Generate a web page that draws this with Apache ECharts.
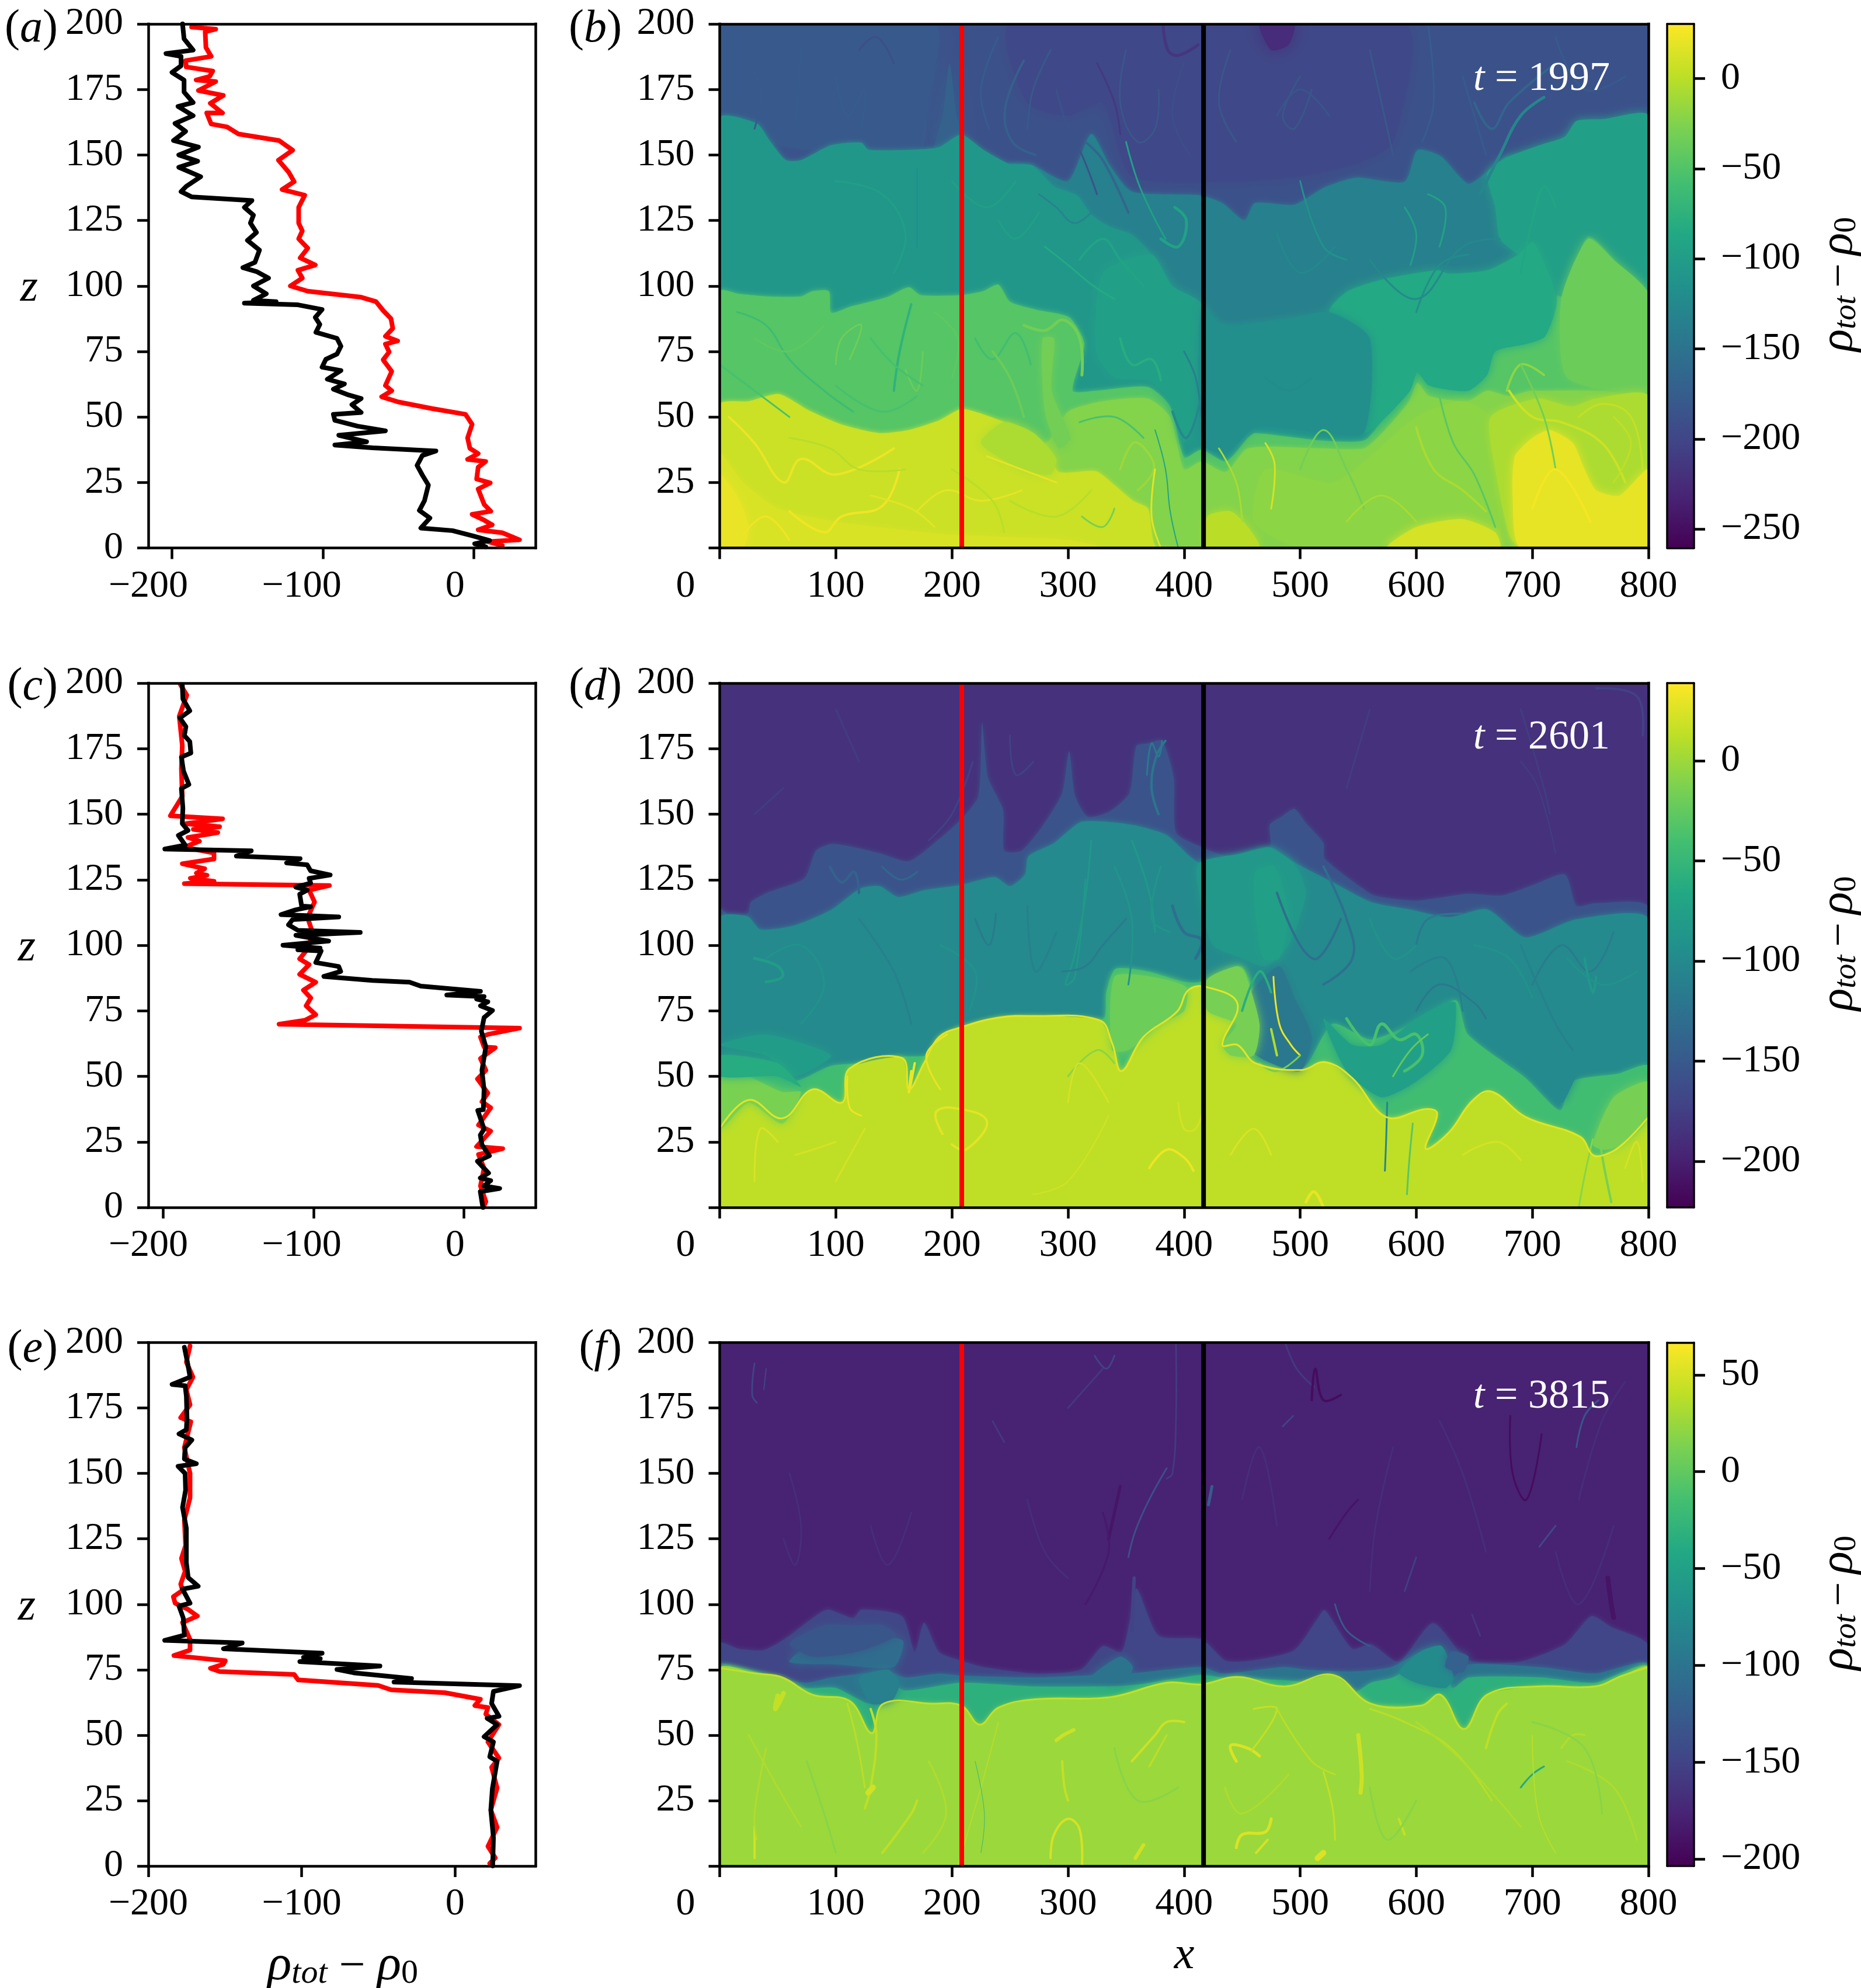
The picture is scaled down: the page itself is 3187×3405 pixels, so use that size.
<!DOCTYPE html>
<html><head><meta charset="utf-8">
<style>html,body{margin:0;padding:0;background:#fff}#c{width:3187px;height:3405px}</style>
<script src="https://cdn.jsdelivr.net/npm/echarts@6/dist/echarts.min.js"></script>
</head><body><div id="c"></div>
<script>
// ---------- tick labels ----------
const zTicks=[0,25,50,75,100,125,150,175,200];
const xTicks=[0,100,200,300,400,500,600,700,800];
const rhoTicks=[-200,-100,0];
const redX=208.5, blackX=416.8;

// ---------- profiles: [rho, z] ----------
const aBlack=[[-193,200],[-192,194.3],[-186,190],[-204,188.7],[-194,187.6],[-194,184],[-200,181.5],[-192,178.6],[-192,174],[-186,170],[-196,168.5],[-186,165],[-198,162],[-191,159],[-199,155.5],[-182.5,153],[-195.5,150],[-183,147.6],[-195.5,145.3],[-181,141.7],[-190.6,138],[-194,136],[-187,134],[-147,132.6],[-152,130],[-146,127],[-148,124],[-144,120.4],[-150,117.4],[-142,113.7],[-145,109],[-153,107],[-144,105.5],[-136,103],[-146,100],[-137.5,97],[-146,94.5],[-131,94],[-152,93.4],[-116.5,92.8],[-100.5,91],[-105,88],[-102,85.3],[-104.6,82.3],[-90.6,80],[-88,77],[-90.6,74],[-98,72],[-100.5,69],[-88,67.7],[-97,64.4],[-85.7,62.6],[-93,60.6],[-83,58.4],[-74.6,57],[-80.7,54.7],[-74.6,51.7],[-93,51],[-92,48.7],[-77,46.5],[-58.5,44.7],[-89.4,43],[-71,40.5],[-92,39.3],[-67,38.2],[-25,37],[-34,35.3],[-37.5,31.5],[-34,27.8],[-30,24],[-32.6,18],[-36,14.3],[-29,11.4],[-35,7.6],[-14,6.6],[-0.5,4.6],[10.6,2.8],[0.7,1.6],[8,0.4]];
const aRed=[[-187,198.8],[-171,198],[-178,197],[-177.5,191],[-174,187.6],[-191,186],[-190.6,183.6],[-173,182],[-175,180],[-184,178.6],[-171,178],[-182.5,174.6],[-166,172.7],[-174.6,169.7],[-166.5,166],[-177,166],[-174,161.8],[-163.5,160.7],[-156,158],[-129,155.5],[-120,151.8],[-129.4,148],[-122.7,143.5],[-119,139.8],[-127,136.8],[-112,134.6],[-116,130],[-116,124],[-113.6,121],[-116,118],[-110,114.4],[-115,110.7],[-105,108],[-116.5,106],[-113.6,103],[-121.5,100],[-110,98],[-74.6,95.7],[-64.7,94],[-59.8,90.5],[-54.8,87.5],[-53.6,83.8],[-58.5,80.8],[-50.4,79],[-58.5,77.8],[-56,74.8],[-60,71.8],[-54.3,67.4],[-58.5,62],[-54.3,60],[-61,57.7],[-49.9,55.7],[-27.7,53.2],[-5.4,51],[-1,47.2],[-4,42],[-2.5,38],[3,36],[-4,33.8],[8,33],[3,30.8],[2,26.3],[11,24.8],[3,22.5],[7,16.6],[11.4,14],[-1,12.8],[7,10.6],[12.3,8.8],[3,6.9],[19,5.8],[30.4,3.1],[9.4,2.4],[19,0.9]];
const cBlack=[[-187.4,199.4],[-187,194],[-182.4,189.4],[-189,186.7],[-185,183.4],[-186,180],[-182.4,177.7],[-181.7,173.3],[-188,171.8],[-186.6,166.5],[-183,161.3],[-188,159.8],[-187,152.4],[-187.4,146.4],[-183.6,143.8],[-190,141.9],[-185.4,138.2],[-199,136.7],[-141.5,136],[-151.4,134],[-109,133],[-118,131.4],[-104.3,130.7],[-102,128.4],[-89,126.8],[-103,125.5],[-102,123.7],[-112,122.2],[-104.3,121],[-109.3,119.5],[-108,115],[-102,114.7],[-112,113.5],[-121.7,111.7],[-83.3,110.8],[-114,109.8],[-116.7,107.8],[-110.5,105.7],[-69,104.9],[-111.8,103.8],[-90,101.6],[-120.4,100],[-95.7,98.9],[-110.5,98.3],[-95,97.8],[-98.6,93.4],[-83.3,91.9],[-82,90],[-93.2,88.1],[-61,86.6],[-36.2,85.9],[-28.7,84.4],[11,82.4],[-11.4,81],[13.4,80.4],[8.4,79.5],[15.9,78.4],[11,76.9],[19,75.1],[13.4,72.4],[11.6,67.2],[14.6,61.2],[12,52.3],[13.4,44.8],[12.9,37.3],[9.2,37],[13.4,29.9],[10.9,27.6],[12,23.9],[17,19.7],[9,17.6],[16.4,13.1],[10.9,11.2],[17.8,10.2],[13.4,8.2],[23.8,7.2],[10.9,6],[12.6,0]];
const cRed=[[-188.6,199.4],[-184.4,195.4],[-189.4,187.4],[-187.4,176.2],[-188,167.3],[-187.4,156.8],[-195.3,149.4],[-160.6,148.2],[-185,146.4],[-162.6,145.2],[-180,144.2],[-163.8,143],[-183.6,141.1],[-176,139.7],[-186,137.4],[-166.3,135.2],[-166.3,132.9],[-187.4,131.1],[-172.5,129.2],[-178,127.5],[-171,126.7],[-182,125.5],[-166.3,124.4],[-186,123.5],[-89.5,122.8],[-103,121],[-99.4,116.5],[-104,110.5],[-100.6,104.6],[-104,98.6],[-109.3,94.8],[-103,92.6],[-109.3,88.9],[-98.6,85.9],[-106.8,82.9],[-101.9,79.9],[-105,76.9],[-98.6,73.5],[-105.6,71.4],[-123,69.9],[37,68.4],[15.9,66],[11,65],[13.4,61.2],[20.8,60.9],[11,56.8],[14.6,52.3],[9,49],[15.9,43.6],[12,40.3],[17.8,38],[9.7,31.4],[17.8,29.1],[8.4,23.2],[25.8,22.4],[9.7,20.2],[13.4,14.9],[11,8.2],[14.6,2.2],[12.9,0]];
const eBlack=[[-176.5,198.2],[-174.5,192.5],[-172.8,186.8],[-184.5,184],[-176,183.5],[-175.2,179.5],[-174.8,171.3],[-175.2,166.7],[-180,165.1],[-171.6,162.8],[-176,159.9],[-176.5,155.5],[-168.7,153.7],[-180.6,152.7],[-176,150],[-175.7,143.6],[-177.7,137],[-175.2,129],[-175.2,115.9],[-174,110.2],[-167.5,106.9],[-177.7,105.8],[-172.8,100.4],[-180,99.3],[-177.2,94.7],[-176.5,88.2],[-189.3,86.2],[-138.8,85.2],[-151,83],[-86.7,81.3],[-98.8,79.7],[-87.9,79.2],[-101.2,78.1],[-49,76.4],[-77,75.1],[-66,73.8],[-28.4,71.6],[-39.8,70.3],[42,68.9],[25,66.7],[23.8,62.1],[28.6,57.2],[20.9,56.4],[27.4,54],[18.9,49.4],[25,47.4],[22.6,41.7],[27.4,40],[24.3,29.5],[23.3,21.4],[25,10.8],[24.5,0]];
const eRed=[[-172.8,198.7],[-175.2,192.5],[-170.9,186.8],[-175.2,182],[-172.8,176.2],[-178.9,171.3],[-172.3,169.7],[-176.5,159.9],[-172.8,150],[-172.8,140.7],[-176.5,132.2],[-175.7,122.4],[-178.4,117.5],[-176,112.6],[-178.9,107.7],[-177.7,105.3],[-183.7,102.9],[-182.5,100.4],[-174,98],[-168,95.5],[-177.7,93],[-172.8,86.6],[-172.8,82.5],[-183.3,80.4],[-149.8,78.4],[-151,77.1],[-159.5,75.5],[-153.4,74.3],[-104.9,73.2],[-102.4,71.1],[-50.2,69],[-41.7,67.3],[-6.6,66.2],[16.5,63.7],[12.9,61.3],[21.4,60.5],[20,58],[28.6,54],[21.4,47.4],[28.6,41.2],[23.8,37.7],[27.4,29.8],[23.3,21.4],[27.4,14.8],[21.4,7.5],[26.2,3.1],[22.6,1]];

// ---------- density fields ----------
const bTime='1997', dTime='2601', fTime='3815';
const bRange=[-260.5,30.3], dRange=[-223,38.7], fRange=[-203.6,66.7];
const bTicks=[0,-50,-100,-150,-200,-250], dTicks=[0,-50,-100,-150,-200], fTicks=[50,0,-50,-100,-150,-200];
const bBase=-188, dBase=-186, fBase=-178;

// "Down": the outline is a top edge and the region fills to z=0. "Blob": a closed outline. "Line": a filament
const bDown=[
 [-135,[[0,140],[230,140],[250,146.5],[269,146],[300,140],[320,158],[336,146],[355,136],[413,134.6],[433,131.6],[452,125],[461,131.6],[495,131],[521,137.6],[548,141.3],[590,139.8],[601,151.8],[621,149.5],[644.5,139],[661,143.5],[678,149.5],[700,150],[800,150]]],
 [-108,[[0,164],[32,162],[43,155.5],[57,148],[70,148],[96,153.7],[122,154.7],[128,152],[166,152],[189,153],[208,157.7],[227,152],[250,146.5],[269,146],[288,138],[308,134.5],[320.5,127],[336,122.6],[355,119.6],[372,112],[394,96],[413,93],[433,85],[452,85],[484,87],[525,88],[800,80]]],
 [-48,[[0,98],[16,97],[41,96],[70,96],[80,98],[94,98],[96,89.8],[112,92],[144,95.7],[163,99.5],[173,96.5],[208,96.5],[227,98],[240,100.5],[250,94],[272,91],[301,88],[314,78],[304,60],[324,60],[369,61.4],[388,54],[400,34.5],[415,37.5],[436,33],[455,42],[461,43.8],[518,41],[555,41],[571,48.7],[594.6,60],[601,67],[611,62],[644.5,60],[661,66],[668,75],[694,77.8],[711,80.8],[721,95.7],[735,114],[748,121],[762,118],[777.5,107.7],[800,98.7]]],
 [-24,[[0,40],[280,40],[300,52],[330,56],[369,57],[388,50],[400,30],[415,33],[436,29],[455,38],[518,38],[555,38],[571,44],[594,56],[601,63],[611,58],[644,56],[661,60],[680,58],[700,60],[800,56]]],
 [7,[[0,54.7],[25,56],[51,58.7],[77,52.4],[105.5,47],[137.6,43.8],[163,45],[189,48.7],[208,53],[227,51],[250,47],[266,40.5],[282,37.5],[292,29],[324,29.3],[340,24],[356,18],[369,15],[378,0]]],
];
const bBlob=[
 [-180,[[0,200],[185,200],[180,170],[170,150],[0,160]]],
 [-170,[[185,152],[192,165],[198,185],[204,165],[208,158]]],
 [-198,[[250,200],[590,200],[580,155],[550,147],[500,142],[440,140],[355,142],[330,170],[300,165],[265,170]]],
 [-224,[[465,200],[495,200],[490,192],[475,190]]],
 [-97,[[661,143],[678,149],[708,154],[728,157],[738,163],[761,163.7],[800,165],[800,98.7],[777,107],[748,119],[725,96],[700,110],[688,112],[672,118],[668,130]]],
 [-85,[[525,90.5],[541,98],[571,102.5],[618,106],[628,104.7],[661,106],[688,112],[701,116.7],[721,95],[711,80.8],[694,77.8],[668,75],[661,66],[644.5,60],[611,62],[601,67],[594.6,60],[571,48.7],[555,44],[525,60]]],
 [-98,[[372,112],[390,100],[415,93],[415,60],[400,40],[388,56],[369,64],[340,65],[324,75],[330,105]]],
 [-118,[[415,93],[433,85],[484,87],[525,90],[560,80],[555,44],[518,44],[461,46],[436,36],[415,40]]],
 [-36,[[725,95],[748,118],[770,110],[800,97],[800,60],[730,65]]],
 [-32,[[278,80],[288,80],[286,60],[302,42],[292,38],[280,52]]],
 [-20,[[600,50],[640,56],[664,50],[668,30],[672,5],[640,10],[600,8],[580,0],[500,0],[460,10],[470,30],[530,25]]],
 [-6,[[664,50],[704,57],[734,54],[754,57],[800,58],[800,0],[690,0],[680,5],[668,30]]],
 [20,[[690,0],[683,20],[685,35],[700,42],[715,45],[735,40],[745,30],[755,22],[775,20],[800,30],[800,0]]],
 [12,[[575,0],[600,8],[640,11],[668,6],[672,0]]],
 [14,[[0,36],[20,25],[50,15],[100,10],[200,5],[300,3],[330,0],[0,0]]],
 [21,[[0,28],[15,20],[25,8],[20,0],[0,0]]],
 [0,[[420,12],[440,14],[455,8],[465,0],[420,0]]],
 [-6,[[225,40],[260,30],[285,28],[290,34],[270,44],[245,48]]],
];
const bLine=[
 [-172,[[262,186],[246,168],[252,155],[272,150]],4],[-165,[[315,155],[330,148],[352,128]],4],[-180,[[285,190],[270,175],[265,160]],3],
 [-215,[[382,200],[386,190],[395,188],[412,192]],5],[-212,[[325,185],[340,170],[345,158]],3],[-182,[[500,180],[485,165],[495,160],[510,175]],3],
 [-175,[[610,200],[615,170],[605,155]],3],[-165,[[650,170],[665,160],[680,170],[720,185]],4],[-128,[[655,135],[672,150],[690,165],[710,172]],5],
 [-98,[[350,155],[360,140],[372,128],[384,118]],3],[-92,[[310,110],[330,118],[345,110],[365,100]],4],[-84,[[280,115],[300,108],[322,100],[340,95]],3],
 [-130,[[275,135],[290,130],[305,124],[320,128]],3],[-95,[[380,118],[395,115],[402,125],[392,130]],5],
 [-135,[[400,75],[410,65],[415,50]],3],[-80,[[345,80],[355,70],[372,72],[380,64]],4],[-125,[[390,52],[402,42],[415,58]],4],
 [-74,[[150,60],[155,75],[165,93]],4],[-62,[[15,90],[40,85],[60,72],[90,60],[115,52]],3],[-34,[[100,70],[105,80],[122,85],[112,72]],3],[-32,[[262,85],[280,83],[296,87],[310,80],[312,66]],5],
 [-36,[[160,68],[170,60],[175,75]],3],[-60,[[220,80],[235,72],[255,82],[268,70]],3],
 [22,[[8,50],[30,40],[55,25],[70,34],[100,28],[150,38]],4],[24,[[60,14],[90,6],[105,12],[140,16],[155,30]],4],[-2,[[60,42],[95,38],[120,30],[160,30]],3],[20,[[170,14],[195,22],[225,18],[260,22]],3],
 [-14,[[345,30],[356,40],[366,38],[374,30],[360,22]],4],[18,[[375,30],[372,12],[380,0]],3],[-90,[[395,0],[388,14],[384,30],[375,45]],2],[-30,[[312,12],[330,8],[340,15]],3],
 [-8,[[600,46],[615,30],[640,22],[660,14]],4],[-45,[[620,58],[632,40],[650,28],[668,8]],3],[8,[[680,60],[700,50],[725,48],[760,40],[780,25]],4],[-20,[[678,60],[690,70],[710,66]],4],[4,[[740,50],[760,55],[785,50],[795,30]],3],
 [12,[[475,15],[478,32],[470,40]],3],[-122,[[470,65],[490,60],[510,65]],3],[-120,[[600,90],[620,108],[645,112]],3],
 [-178,[[20,190],[35,175],[30,160]],3],[-176,[[70,190],[65,160]],3],[-175,[[100,180],[110,165],[125,175],[122,160]],3],[-192,[[120,190],[135,195],[150,185]],3],[-177,[[240,195],[225,175],[232,160]],3],
 [-186,[[290,175],[300,160],[312,150],[325,135]],3],[-182,[[350,190],[345,170],[360,155],[375,160],[378,175]],3],[-190,[[400,185],[390,165],[405,150]],3],[-182,[[440,190],[430,170],[445,155]],3],[-184,[[480,165],[500,175],[525,165]],3],[-180,[[560,190],[580,150]],3],[-178,[[640,180],[660,150]],3],[-178,[[720,195],[745,175],[780,180]],3],
 [-98,[[100,140],[140,135],[160,120],[150,105]],3],[-116,[[170,115],[170,145]],3],[-98,[[200,140],[230,130],[255,140]],3],[-97,[[240,125],[255,118],[275,128]],3],[-125,[[480,120],[500,105],[530,115]],3],[-114,[[500,140],[520,115],[540,110]],3],[-98,[[590,130],[600,120],[595,108]],3],[-124,[[560,110],[600,95],[640,115],[672,118]],3],[-90,[[690,105],[700,125],[710,138],[720,130]],3],[-95,[[610,135],[625,130],[620,115]],3],
 [-56,[[0,70],[30,60],[60,50]],3],[-42,[[30,80],[60,75],[90,85]],3],[-56,[[130,80],[150,70],[175,62]],3],[-42,[[185,90],[205,80],[200,65]],3],[-56,[[100,62],[140,52],[170,58]],3],[-36,[[235,75],[250,65],[262,50]],4],[-55,[[310,48],[340,50],[365,42]],3],
 [20,[[230,35],[260,30],[290,25]],3],[-2,[[250,18],[290,12],[320,22]],3],[18,[[130,20],[165,15],[185,8]],3],[-1,[[200,30],[235,18],[245,6]],3],[24,[[20,5],[40,12],[60,3]],3],
 [-32,[[500,30],[520,45],[540,30],[555,15]],3],[-8,[[430,38],[445,25],[450,10]],3],[-32,[[690,70],[710,50],[720,30]],3],[-8,[[540,10],[570,20],[600,10]],3],[26,[[700,15],[720,30],[750,10]],4],[2,[[770,25],[785,40],[770,50]],3],
];

const dDown=[
 [-155,[[0,114],[8,111.6],[24,112],[27,116.5],[41,120],[73,125.5],[83,136],[96,138.6],[115,137.4],[138,135],[163,132],[189,140.4],[208,148],[223,157],[226,185],[231,164],[244,151.6],[245,136],[260,136],[279,146],[295,158],[301,174],[306,157],[317,149],[336,151],[353,158],[359,176],[369,177],[381,178],[391,164],[393,143],[415,137.4],[433,134.4],[452,134],[474,137.4],[474,146],[484,149],[495,152],[505,146.5],[520,139],[521,133],[561,119.5],[575,118],[601,117],[644.5,119.6],[674,119],[701,123],[728,127],[738,115],[754,116],[800,114.3]]],
 [-100,[[0,110.5],[24,111],[35,106],[64,107.5],[96,113.5],[121.6,121.7],[138,122.5],[153.7,118.4],[176,121],[208,123],[237,126],[250,122.5],[263,127],[266,134],[288,139],[311,147],[336,147],[359,145.6],[385,142],[413.5,131.4],[449,135],[474,137.4],[495,131.5],[528,124],[561,116.5],[595,113.6],[628,110.7],[661,113.7],[694,103],[738,109.9],[800,109.9]]],
 [-42,[[0,55],[16,55],[41,52],[64,48],[96,54],[125,55],[157,57.5],[179,58],[189,64],[208,68.7],[240,72],[330,71.7],[333,82],[341,91],[369,90],[400,86],[415,86],[449,92],[462,77.7],[461,60],[501,52.4],[528,70],[561,64],[611,73],[634.5,79],[644.5,65.9],[694,49.4],[724,37],[734,48],[774,51],[800,53.8]]],
 [13,[[0,30],[25,41],[54,34],[80,45],[105.5,40],[112,53],[157,57],[163,45],[176,55],[189,65],[208,68.7],[240,72.4],[269,73],[327,71.4],[338,62.7],[346,52],[365,65],[394,74.7],[404,83],[420,84],[446,77.7],[433,62],[446,62],[461.5,55],[501,52.4],[521.5,55.4],[544.7,49.4],[574.6,34.4],[608,37.5],[618,35.8],[608,22.4],[628,28.5],[648,40.5],[664.4,44.2],[694,34.5],[741,27],[752,20],[762,20],[777.5,24],[800,34.5]]],
];
const dBlob=[
 [-84,[[412,131],[450,135],[474,137],[495,131],[505,120],[490,100],[470,92],[450,95],[425,100],[415,115]]],
 [-76,[[461,128],[478,130],[490,112],[482,95],[468,95],[462,110]]],
 [-118,[[455,80],[462,70],[452,62],[470,56],[500,52],[510,65],[495,80],[482,92]]],
 [-75,[[520,72],[545,62],[570,62],[600,72],[625,78],[634,78],[630,60],[600,48],[570,42],[540,52]]],
 [-80,[[0,62],[40,58],[65,50],[96,58],[40,66]]],
 [-15,[[420,87],[445,92],[452,90],[465,70],[460,58],[440,58],[433,62],[445,70],[420,75]]],
 [-20,[[340,88],[372,88],[402,84],[400,75],[380,70],[352,60],[338,60]]],
 [-14,[[0,52],[24,50],[54,44],[70,44],[54,32],[25,40],[0,30]]],
 [-62,[[0,58],[50,55],[70,46],[50,50],[0,50]]],
 [-100,[[700,65],[725,40],[738,50],[770,68],[740,100],[700,100]]],
 [-15,[[770,42],[800,48],[800,34],[778,24],[762,22],[752,24]]],
];
const dLine=[
 [-140,[[95,130],[105,124],[116,128],[120,120]],4],[-135,[[140,130],[156,125],[170,128]],3],[-172,[[180,140],[200,150],[218,170]],3],[-172,[[250,180],[255,165],[270,170]],3],
 [-120,[[384,178],[376,172],[372,160],[378,150]],4],[-118,[[368,165],[372,177],[378,172],[381,178]],3],[-80,[[30,95],[50,92],[54,88],[40,86]],5],
 [-84,[[320,140],[315,118],[305,95],[298,85],[306,88],[315,125]],3],[-116,[[220,110],[232,100],[238,112]],3],[-84,[[355,140],[370,120],[375,105]],3],[-115,[[295,90],[315,92],[330,100],[350,110]],3],
 [-128,[[390,115],[400,105],[415,102],[410,95]],5],[-128,[[480,120],[500,100],[515,95],[535,110]],4],[-128,[[520,85],[545,95],[540,110],[520,130]],4],
 [-118,[[600,100],[610,110],[640,112]],3],[-118,[[600,75],[620,85],[650,78],[660,72]],3],[-115,[[700,85],[725,100],[750,90],[770,105]],3],[-84,[[745,95],[752,82],[755,88]],4],
 [-60,[[450,75],[465,90],[475,82]],4],[32,[[477,88],[482,70],[492,62],[500,58]],3],[8,[[475,68],[480,58]],4],[-38,[[540,72],[560,62],[570,70],[585,64],[600,66],[605,58],[590,52]],5],[-25,[[580,50],[595,60],[610,66]],3],[-18,[[465,55],[480,52],[500,58]],3],
 [30,[[190,45],[178,58],[196,66]],3],[32,[[110,50],[112,38],[122,35]],3],[32,[[165,52],[163,44],[168,55]],4],
 [28,[[192,28],[186,36],[200,38],[230,33],[212,22],[200,24]],4],[32,[[370,15],[385,22],[400,19],[408,14]],4],[22,[[395,40],[400,30],[410,30],[418,40]],3],[22,[[65,20],[80,22],[100,25]],3],[22,[[270,5],[300,10],[335,35]],2],
 [-105,[[575,40],[574,25],[573,14]],3],[-30,[[597,32],[594,18],[592,5]],3],[-15,[[757,28],[762,15],[768,2]],4],[-8,[[752,26],[745,12],[740,0]],3],[30,[[505,2],[512,6],[520,0]],5],[-8,[[300,50],[325,60],[340,55]],3],
 [-172,[[755,198],[790,195],[795,180]],4],[-175,[[690,170],[705,160],[720,135]],2],
 [-176,[[100,190],[120,170]],3],[-176,[[30,150],[55,160]],3],[-176,[[540,160],[560,190]],3],[-176,[[690,190],[710,160],[715,150]],3],
 [-90,[[40,95],[70,100],[90,85],[70,70]],3],[-110,[[120,110],[150,90],[165,70]],3],[-90,[[190,100],[220,90],[215,75]],3],[-110,[[265,115],[272,90],[290,105]],3],[-88,[[340,130],[355,110],[352,85]],3],[-88,[[380,130],[372,110],[388,105]],3],[-112,[[595,90],[625,95],[640,75]],3],[-90,[[650,100],[680,95],[700,80]],3],[-110,[[690,100],[720,70],[735,60]],3],[-90,[[730,95],[760,85],[790,90]],3],[-90,[[560,110],[580,95],[600,100]],3],
 [24,[[30,10],[35,30],[50,25]],3],[22,[[300,40],[310,55],[335,40]],3],[22,[[100,10],[125,30]],3],[24,[[440,20],[460,30],[475,20]],3],[22,[[640,20],[670,25],[690,18]],3],[22,[[780,15],[790,25],[795,10]],3],
];

const fDown=[
 [-148,[[0,85],[16,83],[38,82.5],[57,87],[80,94.7],[93,98],[115,94.7],[122,98],[157,95.5],[168,81.7],[176,93],[189,81.7],[208,78.4],[227,76],[272,73.5],[311,75],[330,84],[346,81.7],[353,93],[359,106],[378,88],[415,86.6],[436,78.4],[461.5,78.7],[495,82.5],[515,94.5],[521,97.8],[544.7,83],[561,84.7],[585,78],[614.5,92.8],[644.5,78.7],[688,77.9],[728,84.7],[751,95.5],[767.5,91.4],[800,84]]],
 [-100,[[0,76.8],[25,74.3],[73.5,70],[96,72],[144,74.3],[160,72],[189,73.5],[208,72.7],[272,72],[314,72.7],[353,73.5],[415,76],[433,73.5],[486,76],[505,75],[544.7,74.3],[578,75.9],[604.5,82],[621,82.8],[631,72],[644.5,77],[708,75.9],[754,73.5],[800,76.8]]],
 [-32,[[0,75],[50,72],[73,68],[100,68],[130,62],[144,70],[160,67],[208,70],[272,68.6],[353,69],[415,73],[433,72],[486,71],[505,70],[545,66],[561,70],[580,72],[604,78],[621,80],[631,68],[645,72],[708,72],[754,70],[800,76]]],
 [26,[[0,75.6],[32,73.5],[54,72],[80,65.4],[112,63],[131,50.7],[141,62],[182.6,62],[208,61.3],[224,54],[240,60.5],[272,63.7],[336.5,64.5],[385,70],[415,69.4],[446,72.2],[486.7,68.6],[528,73],[561,62],[604.5,61.3],[621,65.4],[641,52.3],[661,65.4],[704.3,68.6],[754,68.6],[777.5,72.7],[800,76]]],
];
const fBlob=[
 [-108,[[60,78],[100,77],[150,76],[158,86],[130,88],[90,88]]],
 [-132,[[60,85],[90,92],[115,92],[140,92],[152,88],[120,82],[80,80]]],
 [-88,[[120,72],[145,75],[155,70],[148,63],[130,62]]],
 [-75,[[585,74],[604,82],[622,84],[632,72],[625,68],[600,70]]],
 [-120,[[625,76],[640,74],[645,80],[630,82]]],
 [-100,[[320,72],[345,80],[356,76],[348,70]]],
];
const fLine=[
 [-150,[[30,192],[28,180],[32,177]],3],[-148,[[40,190],[38,182]],2],[-160,[[235,170],[245,162]],3],[-150,[[323,195],[333,190],[340,195]],3],[-160,[[300,175],[320,185],[330,190]],3],
 [-158,[[393,200],[393,170],[390,150],[385,148]],3],[-140,[[352,118],[358,128],[370,140],[385,152]],3],[-150,[[355,90],[357,110]],6],[-188,[[335,125],[345,145]],5],
 [-125,[[421,138],[424,145]],5],[-160,[[487,200],[497,190],[512,183]],3],[-195,[[510,178],[513,190],[520,178],[535,180]],4],[-195,[[681,172],[683,150],[695,140],[708,165]],3],[-150,[[494,172],[485,168]],3],
 [-135,[[738,160],[745,172],[757,178]],3],[-145,[[706,122],[720,130]],3],[-190,[[765,110],[768,100],[770,95]],8],[-190,[[525,125],[540,135],[550,140]],3],[-155,[[590,105],[600,118]],3],
 [-130,[[530,100],[540,90],[560,84]],3],[-160,[[655,88],[648,96]],3],
 [40,[[130,60],[135,50],[130,30],[125,22]],4],[38,[[110,62],[118,48],[125,30]],3],[48,[[128,28],[132,30]],10],[42,[[55,66],[48,60],[50,65]],8],[48,[[30,3],[30,15]],4],[40,[[140,5],[165,20],[170,25]],4],[34,[[40,45],[30,20],[32,10]],3],
 [50,[[285,3],[288,12],[300,18],[310,14],[312,0]],4],[48,[[358,3],[365,8]],6],[46,[[290,48],[296,50],[305,52]],6],[46,[[355,40],[375,50],[385,55],[400,55]],4],[40,[[370,38],[385,50]],3],[36,[[240,55],[225,30],[205,0]],2],[42,[[295,40],[297,30],[300,25]],4],
 [52,[[445,7],[450,12],[470,13],[475,18]],5],[52,[[445,40],[440,46],[455,45],[465,42]],5],[42,[[458,44],[480,60],[460,60]],3],[-25,[[220,40],[228,20],[225,5]],1],
 [42,[[520,36],[528,22],[530,10]],3],[46,[[550,50],[553,35],[552,28]],7],[38,[[480,60],[510,40],[530,35]],3],[38,[[560,60],[590,55],[630,45],[665,25]],3],[42,[[590,12],[585,18]],4],[40,[[660,45],[670,58],[678,62]],4],[-40,[[690,30],[700,35],[710,38]],3],[36,[[725,45],[735,50],[745,50]],3],[38,[[700,50],[705,20],[720,5]],2],[52,[[515,3],[520,5]],10],[50,[[462,5],[472,10]],4],
 [-168,[[60,150],[70,130],[65,115],[55,125]],3],[-168,[[130,130],[145,115],[165,135]],3],[-168,[[265,140],[280,120],[300,110]],3],[-185,[[315,100],[335,120],[330,135]],3],[-168,[[450,140],[465,160],[480,130]],3],[-168,[[580,160],[565,130],[560,105]],3],[-168,[[620,170],[640,150],[660,120]],3],[-168,[[740,140],[760,170],[780,185]],3],[-168,[[770,130],[740,100],[720,120]],3],
 [34,[[25,50],[50,30],[70,15]],3],[18,[[75,40],[90,20],[100,5]],3],[34,[[180,40],[195,20],[175,5]],3],[18,[[340,45],[360,25],[395,30]],3],[34,[[435,30],[450,20],[490,35]],3],[34,[[600,55],[640,40],[690,15]],3],[18,[[560,30],[575,10],[600,25]],3],[34,[[730,40],[770,30],[790,10]],3],[18,[[700,55],[745,45],[760,20]],3],
];

// ---------- viridis palette ----------
const viridis=['#440154','#482475','#414487','#355f8d','#2a788e','#21918c','#22a884','#44bf70','#7ad151','#bddf26','#fde725'];
const FONT='"Liberation Serif","Times New Roman",serif', FS=66;
function hex(c){return [1,3,5].map(i=>parseInt(c.substr(i,2),16));}
function col(t){t=Math.max(0,Math.min(1,t))*10;const i=Math.min(9,Math.floor(t)),f=t-i,a=hex(viridis[i]),b=hex(viridis[i+1]);
 return 'rgb('+a.map((v,k)=>Math.round(v+(b[k]-v)*f)).join(',')+')';}
const colorOf=(v,r)=>col((v-r[0])/(r[1]-r[0]));

const chart=echarts.init(document.getElementById('c'),null,{renderer:'canvas',width:3187,height:3405});
const grids=[],xAxes=[],yAxes=[],series=[],graphics=[];
const LW=4.5,TL=19;
const lineAx=()=>({show:true,onZero:false,lineStyle:{color:'#000',width:LW,cap:'square'}});
const tickSt=()=>({show:true,length:TL,inside:false,lineStyle:{color:'#000',width:LW}});
const labelSt=(m)=>({show:true,fontFamily:FONT,fontSize:FS,color:'#000',margin:m,hideOverlap:false,showMinLabel:true,showMaxLabel:true});
const minus=v=>String(v).replace('-','\u2212');

function addGrid(l,t,r,b,extra){grids.push(Object.assign({left:l,top:t,width:r-l,height:b-t,containLabel:false,show:false},extra||{}));return grids.length-1;}
function frame(g,xr,yr){
 xAxes.push({gridIndex:g,type:'value',position:'top',min:xr[0],max:xr[1],axisLine:lineAx(),axisTick:{show:false},axisLabel:{show:false},splitLine:{show:false},z:20});
 yAxes.push({gridIndex:g,type:'value',position:'right',min:yr[0],max:yr[1],axisLine:lineAx(),axisTick:{show:false},axisLabel:{show:false},splitLine:{show:false},z:20});
}
function zAxis(g,labels,m){
 yAxes.push({gridIndex:g,type:'value',position:'left',min:0,max:200,interval:25,axisLine:lineAx(),axisTick:tickSt(),
  axisLabel:Object.assign(labelSt(m),{customValues:labels}),splitLine:{show:false},z:20});return yAxes.length-1;
}
function profile(top,bot,range,red,black){
 const g=addGrid(254,top,917,bot);
 const xi=xAxes.length,yi=yAxes.length;
 xAxes.push({gridIndex:g,type:'value',position:'bottom',min:range[0],max:range[1],axisLine:lineAx(),
  axisTick:Object.assign(tickSt(),{customValues:rhoTicks}),axisLabel:{show:false},splitLine:{show:false},z:20});
 zAxis(g,zTicks,43);
 frame(g,range,[0,200]);
 // label axis: the printed tick numbers keep one common spacing in all three panels
 xAxes.push({gridIndex:g,type:'value',position:'bottom',min:-200,max:52.4,axisLine:{show:false},axisTick:{show:false},
  axisLabel:Object.assign(labelSt(TL+14),{customValues:rhoTicks,formatter:minus}),splitLine:{show:false}});
 const line=(name,d,c)=>({name,type:'line',xAxisIndex:xi,yAxisIndex:yi,data:d,showSymbol:false,symbol:'none',smooth:false,animation:false,silent:true,clip:true,
   lineStyle:{color:c,width:8,join:'round',cap:'round'},z:5});
 series.push(line('red',red,'#ff0000'),line('black',black,'#000000'));
}
function fieldSeries(xi,yi,kind,pts,fill,width,z){
 return {type:'custom',coordinateSystem:'cartesian2d',xAxisIndex:xi,yAxisIndex:yi,data:pts,encode:{x:0,y:1},silent:true,animation:false,clip:true,z:z,
  renderItem(p,api){
   if(p.dataIndex!==0) return null;
   const cs=p.coordSys,P=pts.map(q=>api.coord(q));
   const clip={type:'rect',shape:{x:cs.x,y:cs.y,width:cs.width,height:cs.height}};
   if(kind==='area') return {type:'polygon',shape:{points:P,smooth:0.22},clipPath:clip,style:{fill:fill,shadowBlur:width,shadowColor:fill}};
   return {type:'polyline',shape:{points:P,smooth:0.4},clipPath:clip,style:{stroke:fill,fill:null,lineWidth:width,lineCap:'round',lineJoin:'round'}};
  }};
}
function field(top,bot,range,base,down,blob,threads,edgeValue,cbTicks,timeText,timeY){
 const g=addGrid(1232.5,top,2823,bot,{show:true,backgroundColor:colorOf(base,range),borderWidth:0});
 const xi=xAxes.length,yi=yAxes.length;
 xAxes.push({gridIndex:g,type:'value',position:'bottom',min:0,max:800,interval:100,axisLine:lineAx(),axisTick:tickSt(),
  axisLabel:Object.assign(labelSt(TL+14),{customValues:xTicks.slice(1)}),splitLine:{show:false},z:20});
 zAxis(g,zTicks.slice(1),43);
 frame(g,[0,800],[0,200]);
 const order=[];
 blob.filter(b=>b[0]<-165).forEach(b=>order.push([b[1],b[0],30]));
 down.forEach(d=>order.push([d[1].concat([[800,0],[0,0]]),d[0],9]));
 blob.filter(b=>b[0]>=-165).forEach(b=>order.push([b[1],b[0],16]));
 order.forEach((o,i)=>series.push(fieldSeries(xi,yi,'area',o[0],colorOf(o[1],range),o[2],2+i*0.01)));
 threads.forEach(t=>series.push(fieldSeries(xi,yi,'line',t[1],colorOf(t[0],range),t[2],3)));
 if(edgeValue!==null) series.push(fieldSeries(xi,yi,'line',down[down.length-1][1],colorOf(edgeValue,range),3,3));
 const v=(x,c)=>({type:'line',xAxisIndex:xi,yAxisIndex:yi,data:[[x,0],[x,200]],showSymbol:false,symbol:'none',animation:false,silent:true,lineStyle:{color:c,width:8,cap:'butt'},z:6});
 series.push(v(redX,'#ff0000'),v(blackX,'#000000'));
 // colour bar
 const stops=viridis.map((c,i)=>({offset:1-i/10,color:c})).reverse();
 const gc=addGrid(2855,top,2901,bot,{show:true,borderWidth:0,backgroundColor:new echarts.graphic.LinearGradient(0,0,0,1,stops)});
 const thin=()=>({show:true,onZero:false,lineStyle:{color:'#000',width:LW-1}});
 xAxes.push({gridIndex:gc,type:'value',position:'bottom',min:0,max:1,axisLine:thin(),axisTick:{show:false},axisLabel:{show:false},splitLine:{show:false},z:20});
 xAxes.push({gridIndex:gc,type:'value',position:'top',min:0,max:1,axisLine:thin(),axisTick:{show:false},axisLabel:{show:false},splitLine:{show:false},z:20});
 yAxes.push({gridIndex:gc,type:'value',position:'left',min:range[0],max:range[1],axisLine:thin(),axisTick:{show:false},axisLabel:{show:false},splitLine:{show:false},z:20});
 yAxes.push({gridIndex:gc,type:'value',position:'right',min:range[0],max:range[1],axisLine:thin(),
   axisTick:Object.assign(tickSt(),{customValues:cbTicks}),axisLabel:Object.assign(labelSt(46),{customValues:cbTicks,formatter:minus}),splitLine:{show:false},z:20});
 // the "0" under the left edge sits left of its tick
 graphics.push({type:'text',x:1174,y:bot+66,style:{text:'0',font:FS+'px '+FONT,fill:'#000',align:'center',verticalAlign:'middle'}});
 graphics.push({type:'text',x:2640,y:timeY,z:50,style:{text:'{i|t}{n|\u00a0=\u00a0'+timeText+'}',align:'center',verticalAlign:'middle',fill:'#fff',rich:{i:{fontFamily:FONT,fontStyle:'italic',fontSize:70,fill:'#fff',color:'#fff'},n:{fontFamily:FONT,fontSize:70,fill:'#fff',color:'#fff'}}}});
 const rich={r:{fontFamily:FONT,fontStyle:'italic',fontSize:80,color:'#000',lineHeight:90,verticalAlign:'bottom'},
   s:{fontFamily:FONT,fontStyle:'italic',fontSize:54,color:'#000',lineHeight:64,verticalAlign:'bottom'},
   m:{fontFamily:FONT,fontSize:74,color:'#000',lineHeight:90,verticalAlign:'bottom',padding:[0,14,0,14]},
   o:{fontFamily:FONT,fontSize:54,color:'#000',lineHeight:64,verticalAlign:'bottom'}};
 graphics.push({type:'text',x:3145,y:top+446,rotation:Math.PI/2,style:{text:'{r|\u03c1}{s|tot}{m|\u2212}{r|\u03c1}{o|0}',rich:rich,align:'center',verticalAlign:'middle'}});
}
function letter(l,x,y){graphics.push({type:'text',x:x,y:y,style:{text:'{p|(}{i|'+l+'}{p|)}',align:'right',verticalAlign:'middle',
  rich:{p:{fontFamily:FONT,fontSize:78,color:'#000'},i:{fontFamily:FONT,fontStyle:'italic',fontSize:78,color:'#000'}}}});}
function italic(t,x,y,fs){graphics.push({type:'text',x,y,style:{text:t,font:'italic '+fs+'px '+FONT,fill:'#000',align:'center',verticalAlign:'middle'}});}

profile(41,938.5,[-215.7,41],aRed,aBlack);
profile(1170,2068,[-210,47.6],cRed,cBlack);
profile(2299.5,3196,[-200,52.4],eRed,eBlack);
field(41,938.5,bRange,bBase,bDown,bBlob,bLine,null,bTicks,bTime,136);
field(1170,2068,dRange,dBase,dDown,dBlob,dLine,28,dTicks,dTime,1264);
field(2299.5,3196,fRange,fBase,fDown,fBlob,fLine,42,fTicks,fTime,2393);

letter('a',99,50);letter('b',1065,50);letter('c',99,1177);letter('d',1065,1177);letter('e',99,2311);letter('f',1065,2311);
italic('z',50,494,78);italic('z',46,1624,78);italic('z',46,2753,78);
italic('x',2028,3350,78);
graphics.push({type:'text',x:587,y:3363,style:{text:'{r|\u03c1}{s|tot}{m|\u2212}{r|\u03c1}{o|0}',align:'center',verticalAlign:'middle',
 rich:{r:{fontFamily:FONT,fontStyle:'italic',fontSize:86,color:'#000',lineHeight:94,verticalAlign:'bottom'},s:{fontFamily:FONT,fontStyle:'italic',fontSize:58,color:'#000',lineHeight:66,verticalAlign:'bottom'},
 m:{fontFamily:FONT,fontSize:80,color:'#000',lineHeight:94,verticalAlign:'bottom',padding:[0,20,0,20]},o:{fontFamily:FONT,fontSize:58,color:'#000',lineHeight:66,verticalAlign:'bottom'}}}});

chart.setOption({animation:false,backgroundColor:'#fff',grid:grids,xAxis:xAxes,yAxis:yAxes,series:series,graphic:{elements:graphics}});
</script></body></html>
